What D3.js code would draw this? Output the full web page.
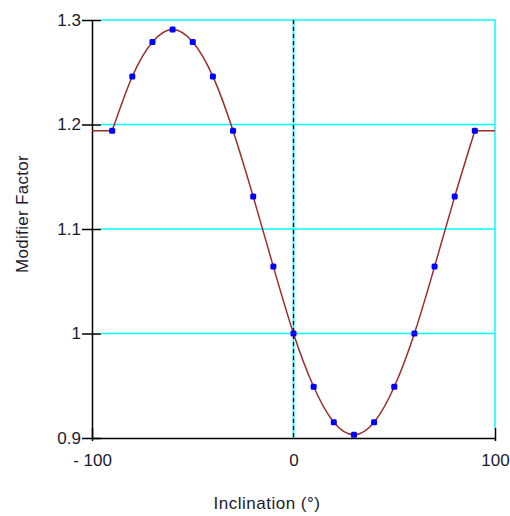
<!DOCTYPE html>
<html>
<head>
<meta charset="utf-8">
<script src="https://cdn.jsdelivr.net/npm/d3@7"></script>
<style>
  html, body { margin: 0; padding: 0; background: #fff; }
  svg { display: block; }
  text { font-family: "Liberation Sans", Arial, sans-serif; fill: #1a1a2e; }
</style>
</head>
<body>
<svg id="chart" width="510" height="516"></svg>
<script>
// Inclination angles (degrees) at which the modifier was sampled
const inclination = [-90, -80, -70, -60, -50, -40, -30, -20, -10, 0, 10, 20, 30, 40, 50, 60, 70, 80, 90];
// Modifier factor at each sampled inclination
const modifier = [1.194, 1.246, 1.279, 1.291, 1.279, 1.246, 1.194, 1.131, 1.064, 1.000,
                  0.949, 0.915, 0.903, 0.915, 0.949, 1.000, 1.064, 1.131, 1.194];
const xTicks = [-100, 0, 100];
const yTicks = [0.9, 1, 1.1, 1.2, 1.3];
const xDomain = [-100, 100];
const yDomain = [0.9, 1.3];

const svg = d3.select("#chart");
const plotL = 92, plotR = 495, plotT = 20, plotB = 438;

const x = d3.scaleLinear().domain(xDomain).range([plotL, plotR]);
const y = d3.scaleLinear().domain(yDomain).range([plotB, plotT]);

const cyan = "#00ffff";
const textColor = "#1a1a2e";
const font = "'Liberation Sans', Arial, sans-serif";

// Horizontal grid lines (start just past the tick marks)
svg.append("g").selectAll("line")
  .data(yTicks.filter(d => d !== yDomain[0]))
  .join("line")
  .attr("x1", plotL + 9).attr("x2", plotR)
  .attr("y1", d => y(d)).attr("y2", d => y(d))
  .attr("stroke", cyan).attr("stroke-width", 1.5);

// Right frame edge
svg.append("line")
  .attr("x1", plotR).attr("x2", plotR)
  .attr("y1", plotT).attr("y2", plotB - 9)
  .attr("stroke", cyan).attr("stroke-width", 1.5);

// Zero-inclination reference: cyan grid line overlaid with black dashes
svg.append("line")
  .attr("x1", x(0)).attr("x2", x(0))
  .attr("y1", plotT).attr("y2", plotB)
  .attr("stroke", cyan).attr("stroke-width", 1.8);
svg.append("line")
  .attr("x1", x(0)).attr("x2", x(0))
  .attr("y1", plotT).attr("y2", plotB)
  .attr("stroke", "#000").attr("stroke-width", 1.3)
  .attr("stroke-dasharray", "4,3");

// Axes: ticks cross the axis line on both sides
const yAxis = d3.axisLeft(y).tickValues(yTicks).tickFormat(d3.format("")).tickSizeInner(9).tickSizeOuter(0);
const gy = svg.append("g").attr("transform", `translate(${plotL},0)`).call(yAxis);
gy.select(".domain").attr("stroke", "#000").attr("stroke-width", 1.5);
gy.selectAll(".tick line").attr("x1", -10).attr("x2", 9).attr("stroke", "#000").attr("stroke-width", 1.5);
gy.selectAll(".tick text").attr("x", -11).style("font-size", "17px").attr("fill", textColor)
  .style("font-family", font);

const xAxis = d3.axisBottom(x).tickValues(xTicks).tickFormat(d => d < 0 ? "- " + Math.abs(d) : d).tickSizeInner(3).tickSizeOuter(0);
const gx = svg.append("g").attr("transform", `translate(0,${plotB})`).call(xAxis);
gx.select(".domain").attr("stroke", "#000").attr("stroke-width", 1.5);
gx.selectAll(".tick line").attr("y1", -10).attr("y2", 3).attr("stroke", "#000").attr("stroke-width", 1.5);
gx.selectAll(".tick line").filter(d => d === 0).remove();
gx.selectAll(".tick text").attr("y", 16).style("font-size", "17px").attr("fill", textColor)
  .style("font-family", font);

// Modifier curve: flat beyond the sampled range, smooth through the samples
const pts = inclination.map((d, i) => [d, modifier[i]]);
const line = d3.line().x(d => x(d[0])).y(d => y(d[1]));
const smooth = d3.line().x(d => x(d[0])).y(d => y(d[1])).curve(d3.curveNatural);
const curveColor = "#9b2d2d";
svg.append("path").attr("d", smooth(pts)).attr("fill", "none").attr("stroke", curveColor).attr("stroke-width", 1.5);
svg.append("path").attr("d", line([[xDomain[0], modifier[0]], pts[0]])).attr("fill", "none").attr("stroke", curveColor).attr("stroke-width", 1.5);
svg.append("path").attr("d", line([pts[pts.length - 1], [xDomain[1], modifier[modifier.length - 1]]])).attr("fill", "none").attr("stroke", curveColor).attr("stroke-width", 1.5);

// Sample markers
svg.append("g").selectAll("rect")
  .data(pts)
  .join("rect")
  .attr("x", d => x(d[0]) - 3).attr("y", d => y(d[1]) - 3)
  .attr("width", 6).attr("height", 6).attr("rx", 1.5)
  .attr("fill", "#0000ff");

// Axis titles
svg.append("text")
  .attr("x", 267).attr("y", 509)
  .attr("text-anchor", "middle")
  .style("font-size", "17px")
  .style("letter-spacing", "0.5px")
  .text("Inclination (°)");

svg.append("text")
  .attr("transform", "translate(28,214) rotate(-90)")
  .attr("text-anchor", "middle")
  .style("font-size", "17px")
  .style("letter-spacing", "0.3px")
  .text("Modifier Factor");
</script>
</body>
</html>
